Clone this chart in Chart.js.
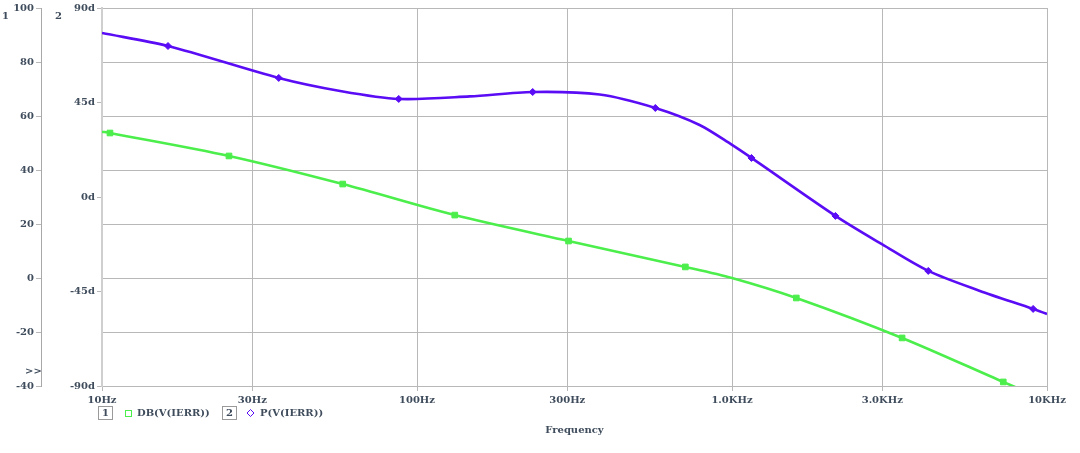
<!DOCTYPE html>
<html><head><meta charset="utf-8">
<script src="https://cdn.jsdelivr.net/npm/chart.js@4/dist/chart.umd.min.js"></script>
<style>html,body{margin:0;padding:0;background:#fff;overflow:hidden;}</style>
</head><body>
<canvas id="c" width="1080" height="453"></canvas>
<script>
// ---- data ----
const freqTicks = [10, 30, 100, 300, 1000, 3000, 10000];
const freqTickLabels = ['10Hz', '30Hz', '100Hz', '300Hz', '1.0KHz', '3.0KHz', '10KHz'];

const dbFreq   = [10, 10.6, 25.3, 58.1, 131.8, 302.7, 711, 1000, 1600, 3467, 7263, 10000];
const dbValues = [54.2, 53.7, 45.2, 34.8, 23.3, 13.7, 4.1, 0.0, -7.4, -22.2, -38.5, -45.4];
const dbMarker = [0, 1, 1, 1, 1, 1, 1, 0, 1, 1, 1, 0];

const phFreq   = [10, 16.2, 36.4, 57, 87.5, 147, 233, 380, 571, 789, 1000, 1153, 2130, 3000, 4198, 6095, 9036, 10000];
const phValues = [78.1, 71.9, 56.7, 50.5, 46.7, 47.9, 50.0, 48.8, 42.4, 34.3, 24.8, 18.6, -9.0, -22.6, -35.2, -44.6, -53.3, -55.7];
const phMarker = [0, 1, 1, 0, 1, 0, 1, 0, 1, 0, 0, 1, 1, 0, 1, 0, 1, 0];

const legendLabels = ['DB(V(IERR))', 'P(V(IERR))'];
const xTitle = 'Frequency';

// ---- styling ----
const GREEN = '#4cee4c';
const PURPLE = '#5a0cf5';
const GRID = '#b8b8b8';
const TEXT = '#3f4c5c';

Chart.defaults.font.family = 'DejaVu Serif';
Chart.defaults.font.size = 10;
Chart.defaults.font.weight = 'bold';
Chart.defaults.color = TEXT;

const extras = {
  id: 'extras',
  afterDraw(chart) {
    const ctx = chart.ctx;
    ctx.save();
    ctx.font = 'bold 10px "DejaVu Serif"';
    ctx.fillStyle = TEXT;
    ctx.textBaseline = 'middle';
    ctx.textAlign = 'left';
    ctx.fillText('1', 2, 16);
    ctx.fillText('2', 55, 16);
    ctx.fillText('>>', 25, 371);
    // legend
    const ly = 413;
    ctx.strokeStyle = '#9a9a9a';
    ctx.lineWidth = 1;
    ctx.strokeRect(98.5, 406.5, 14, 13);
    ctx.strokeRect(222.5, 406.5, 14, 13);
    ctx.textAlign = 'center';
    ctx.fillText('1', 105.5, ly);
    ctx.fillText('2', 229.5, ly);
    ctx.textAlign = 'left';
    ctx.strokeStyle = GREEN;
    ctx.strokeRect(125.5, 410.5, 6, 6);
    ctx.fillText(legendLabels[0], 137, ly);
    ctx.strokeStyle = PURPLE;
    ctx.beginPath();
    ctx.moveTo(250.5, 409.5); ctx.lineTo(254, 413); ctx.lineTo(250.5, 416.5); ctx.lineTo(247, 413); ctx.closePath();
    ctx.stroke();
    ctx.fillText(legendLabels[1], 260, ly);
    ctx.restore();
  }
};

new Chart(document.getElementById('c'), {
  type: 'line',
  data: {
    datasets: [
      {
        label: legendLabels[0],
        yAxisID: 'y',
        data: dbFreq.map((f, i) => ({x: f, y: dbValues[i]})),
        borderColor: GREEN,
        backgroundColor: GREEN,
        borderWidth: 2.6,
        tension: 0.3,
        pointStyle: 'rect',
        pointRadius: dbMarker.map(m => m ? 4 : 0),
        pointBorderWidth: 1
      },
      {
        label: legendLabels[1],
        yAxisID: 'y2',
        data: phFreq.map((f, i) => ({x: f, y: phValues[i]})),
        borderColor: PURPLE,
        backgroundColor: PURPLE,
        borderWidth: 2.6,
        tension: 0.3,
        pointStyle: 'rectRot',
        pointRadius: phMarker.map(m => m ? 3.5 : 0),
        pointBorderWidth: 1
      }
    ]
  },
  options: {
    responsive: false,
    animation: false,
    devicePixelRatio: 1,
    layout: {padding: {top: 8, right: 33, left: 0, bottom: 0}},
    plugins: {legend: {display: false}, tooltip: {enabled: false}},
    scales: {
      x: {
        type: 'logarithmic',
        position: 'bottom',
        min: 10, max: 10000,
        afterBuildTicks: s => { s.ticks = freqTicks.map(v => ({value: v})); },
        afterFit: s => { s.height = 67; },
        ticks: {
          autoSkip: false, maxRotation: 0, padding: 3,
          callback: v => freqTickLabels[freqTicks.indexOf(v)]
        },
        grid: {color: GRID, tickLength: 5},
        border: {color: GRID},
        title: {display: true, text: xTitle, padding: {top: 0, bottom: 17}}
      },
      y: {
        type: 'linear',
        position: 'left',
        weight: 1,
        min: -40, max: 100,
        afterFit: s => { s.width = 41; },
        ticks: {stepSize: 20, padding: 2},
        grid: {color: GRID, tickLength: 5},
        border: {color: '#a8a8a8'}
      },
      y2: {
        type: 'linear',
        position: 'left',
        weight: 0,
        min: -90, max: 90,
        afterFit: s => { s.width = 61; },
        ticks: {stepSize: 45, padding: 2, callback: v => v + 'd'},
        grid: {drawOnChartArea: false, color: GRID, tickLength: 5},
        border: {color: '#cfcfcf', width: 2}
      }
    }
  },
  plugins: [extras]
});
</script>
</body></html>
